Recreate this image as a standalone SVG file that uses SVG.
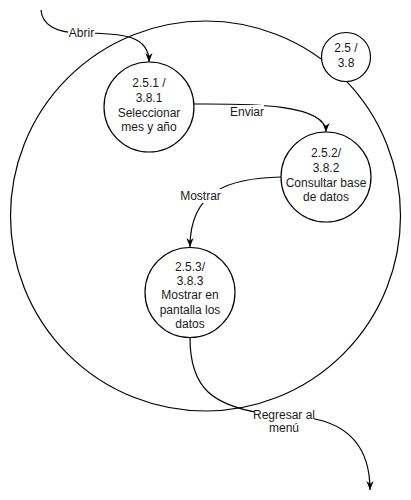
<svg xmlns="http://www.w3.org/2000/svg" width="411" height="500" viewBox="0 0 411 500">
<style>
.n{fill:#fff;stroke:#000;stroke-width:1.2}
.t{font-family:"Liberation Sans",Arial,sans-serif;font-size:12px;fill:#1a1a1a;text-anchor:middle}
.c{fill:none;stroke:#000;stroke-width:1.2}
.lb{fill:#fff;stroke:none}
</style>
<defs>
<marker id="arr" viewBox="0 0 10 10" refX="10" refY="5" markerWidth="9" markerHeight="9" orient="auto" markerUnits="userSpaceOnUse">
<path d="M0,1 L10,5 L0,9 L3,5 z" fill="#000"/>
</marker>
</defs>
<g id="big"><circle cx="205.5" cy="216" r="195" class="n"/></g>
<g id="node25"><circle cx="346" cy="57" r="24.5" class="n"/><text class="t" x="346" y="52">2.5 /</text><text class="t" x="346" y="67">3.8</text></g>
<g id="node251"><circle cx="149" cy="107" r="45" class="n"/><text class="t" x="149" y="87">2.5.1 /</text><text class="t" x="149" y="102">3.8.1</text><text class="t" x="149" y="117">Seleccionar</text><text class="t" x="149" y="131">mes y año</text></g>
<g id="node252"><circle cx="326" cy="177" r="45" class="n"/><text class="t" x="326" y="157">2.5.2/</text><text class="t" x="326" y="172">3.8.2</text><text class="t" x="326" y="187">Consultar base</text><text class="t" x="326" y="201">de datos</text></g>
<g id="node253"><circle cx="190" cy="292.5" r="45" class="n"/><text class="t" x="190" y="271">2.5.3/</text><text class="t" x="190" y="285">3.8.3</text><text class="t" x="190" y="299">Mostrar en</text><text class="t" x="190" y="314">pantalla los</text><text class="t" x="190" y="328">datos</text></g>
<g id="connectors">
<path class="c" d="M41 10 C 42 24, 55 33, 80 33 C 125 33, 149 36, 149 62" marker-end="url(#arr)"/>
<path class="c" d="M194 104 C 240 104, 326 102, 326 132" marker-end="url(#arr)"/>
<path class="c" d="M281 177 C 230 178, 190 190, 190 247" marker-end="url(#arr)"/>
<path class="c" d="M190 338 C 190 390, 215 405, 260 413 L 310 418 C 352 425, 370 450, 370 490" marker-end="url(#arr)"/>
<rect class="lb" x="68" y="26" width="27" height="14"/><text class="t" x="81.5" y="37">Abrir</text>
<rect class="lb" x="230" y="105" width="34" height="14"/><text class="t" x="247" y="116">Enviar</text>
<rect class="lb" x="180" y="189" width="41" height="14"/><text class="t" x="200.5" y="200">Mostrar</text>
<rect class="lb" x="254" y="408" width="60" height="28"/><text class="t" x="284" y="419">Regresar al</text><text class="t" x="284" y="432">menú</text>
</g>
</svg>
